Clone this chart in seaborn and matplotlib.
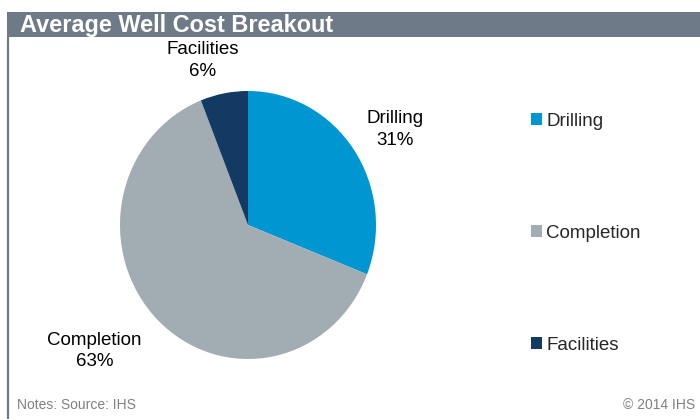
import numpy as np
import matplotlib
matplotlib.use('Agg')
import matplotlib.pyplot as plt
import seaborn as sns
from matplotlib.patches import Rectangle, Patch
from matplotlib.lines import Line2D

# 데이터
categories = ['Drilling', 'Completion', 'Facilities']
shares = [31, 63, 6]
colors = ['#0096D1', '#A2ACB3', '#133A62']
title = 'Average Well Cost Breakout'
note_left = 'Notes: Source: IHS'
note_right = '© 2014 IHS'

sns.set_theme(style='white')
plt.rcParams['font.family'] = ['Liberation Sans', 'DejaVu Sans']

W, H = 700, 419
fig = plt.figure(figsize=(W / 100, H / 100), dpi=100)

# 파이 영역: 중심 (248, 225) px, 반지름 128 x 134 px
cx, cy, rx, ry = 248, 225, 128, 134
xl, yl = 1.8, 1.45
ax = fig.add_axes([(cx - xl * rx) / W, (H - cy - yl * ry) / H,
                   2 * xl * rx / W, 2 * yl * ry / H])
ax.patch.set_visible(False)

palette = sns.color_palette(colors)
wedges, _ = ax.pie(shares, colors=palette, startangle=90, counterclock=False,
                   wedgeprops=dict(linewidth=0))
ax.set_aspect('auto')
ax.set_xlim(-xl, xl)
ax.set_ylim(-yl, yl)
ax.axis('off')

# 데이터 라벨 (각 조각 중간 각도 기준, 약간 보정)
nudge = {'Drilling': (0.07, -0.02), 'Completion': (-0.28, -0.02), 'Facilities': (-0.11, -0.05)}
for w, cat, v in zip(wedges, categories, shares):
    ang = np.deg2rad((w.theta1 + w.theta2) / 2)
    dx, dy = nudge[cat]
    ax.text(1.3 * np.cos(ang) + dx, 1.3 * np.sin(ang) + dy, f'{cat}\n{v}%',
            ha='center', va='center', fontsize=13.5, color='black',
            linespacing=1.35)

# 범례
handles = [Patch(facecolor=c, edgecolor='none') for c in palette]
fig.legend(handles, categories, loc='upper left',
           bbox_to_anchor=(523 / W, 1 - 105 / H), frameon=False,
           fontsize=13.5, handlelength=0.6, handleheight=0.6,
           handletextpad=0.25, labelspacing=5.08, borderaxespad=0)

# 제목 바 + 왼쪽 테두리
fig.patches.append(Rectangle((7 / W, 1 - 37 / H), 1 - 7 / W, 25 / H,
                             transform=fig.transFigure, facecolor='#6F7A88',
                             edgecolor='none', zorder=1))
fig.lines.append(Line2D([8 / W, 8 / W], [0, 1 - 37 / H], transform=fig.transFigure,
                        color='#6F7A88', linewidth=1.6))
fig.text(20 / W, 1 - 25.5 / H, title, color='white', fontsize=16.9,
         fontweight='bold', ha='left', va='center')

# 하단 주석
fig.text(17 / W, 1 - 405 / H, note_left, color='#808080', fontsize=10,
         ha='left', va='center')
fig.text(695 / W, 1 - 405 / H, note_right, color='#808080', fontsize=10,
         ha='right', va='center')

fig.savefig('out.png', dpi=100)
